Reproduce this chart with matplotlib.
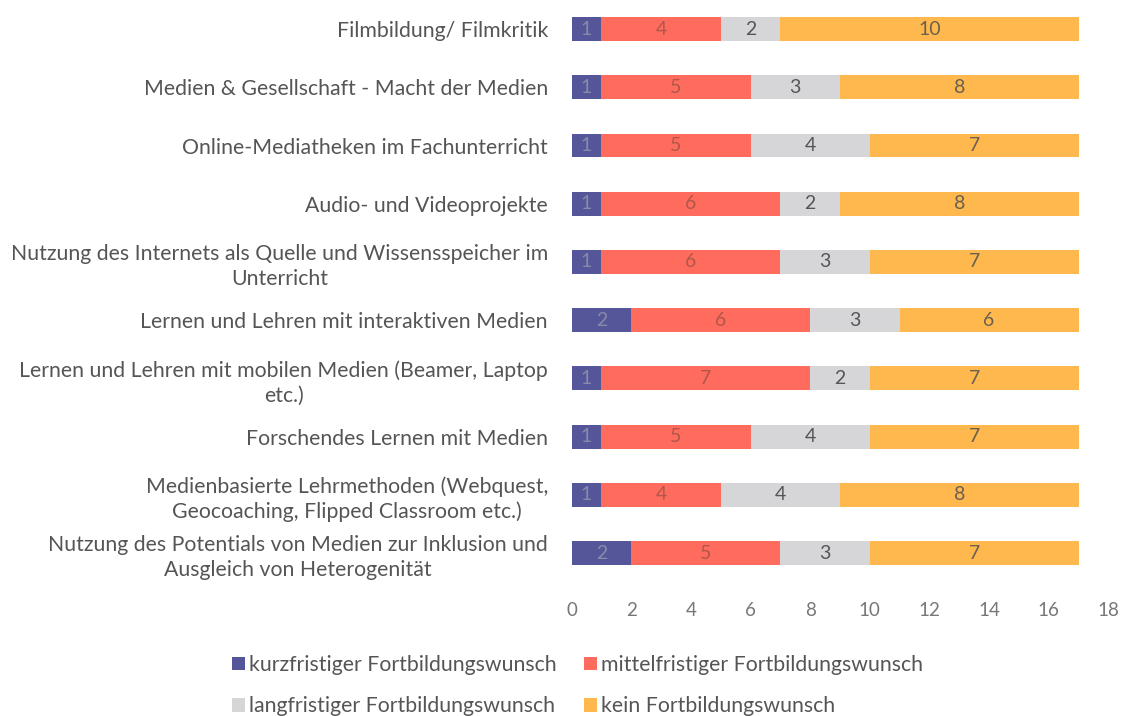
import numpy as np
import matplotlib.pyplot as plt

categories = [
    "Filmbildung/ Filmkritik",
    "Medien & Gesellschaft - Macht der Medien",
    "Online-Mediatheken im Fachunterricht",
    "Audio- und Videoprojekte",
    "Nutzung des Internets als Quelle und Wissensspeicher im\nUnterricht",
    "Lernen und Lehren mit interaktiven Medien",
    "Lernen und Lehren mit mobilen Medien (Beamer, Laptop\netc.)",
    "Forschendes Lernen mit Medien",
    "Medienbasierte Lehrmethoden (Webquest,\nGeocoaching, Flipped Classroom etc.)",
    "Nutzung des Potentials von Medien zur Inklusion und\nAusgleich von Heterogenität",
]
kurz = [1, 1, 1, 1, 1, 2, 1, 1, 1, 2]
mittel = [4, 5, 5, 6, 6, 6, 7, 5, 4, 5]
lang = [2, 3, 4, 2, 3, 3, 2, 4, 4, 3]
kein = [10, 8, 7, 8, 7, 6, 7, 7, 8, 7]

series_names = ["kurzfristiger Fortbildungswunsch", "mittelfristiger Fortbildungswunsch",
                "langfristiger Fortbildungswunsch", "kein Fortbildungswunsch"]
colors = ["#55559a", "#ff6b5c", "#d6d6d9", "#ffb84d"]
label_colors = ["#8a8aa8", "#b0574a", "#555555", "#6a6050"]

plt.rcParams['font.family'] = ['Lato', 'DejaVu Sans']
fig = plt.figure(figsize=(11.23, 7.16), dpi=100)
ax = fig.add_axes([0.509, 0.187, 0.478, 0.813])

y = np.arange(len(categories))
left = np.zeros(len(categories))
handles = []
for vals, name, c, lc in zip([kurz, mittel, lang, kein], series_names, colors, label_colors):
    vals = np.array(vals)
    bars = ax.barh(y, vals, left=left, height=0.41, color=c, label=name)
    handles.append(bars)
    for yi, l, v in zip(y, left, vals):
        ax.text(l + v / 2, yi, str(v), ha='center', va='center', fontsize=14, color=lc)
    left = left + vals

ax.set_ylim(len(categories) - 0.5, -0.5)
ax.set_xlim(0, 18)
ax.set_xticks(range(0, 19, 2))
ax.set_yticks(y)
ax.set_yticklabels(categories, fontsize=15.3, color="#555555",
                   multialignment='center', linespacing=1.3)
ax.tick_params(axis='x', labelsize=13.5, colors="#777777", length=0, pad=14)
ax.tick_params(axis='y', length=0, pad=17)
for s in ax.spines.values():
    s.set_visible(False)

# row-major legend order: kurz, mittel / lang, kein
order = [0, 2, 1, 3]
fig.legend([handles[i] for i in order], [series_names[i] for i in order],
           loc='upper left', bbox_to_anchor=(0.197, 0.1), ncol=2, frameon=False,
           fontsize=15.3, labelcolor="#555555", handlelength=0.6, handleheight=0.6,
           handletextpad=0.2, columnspacing=1.3, labelspacing=1.0, borderpad=0)

fig.savefig("out.png", dpi=100)
